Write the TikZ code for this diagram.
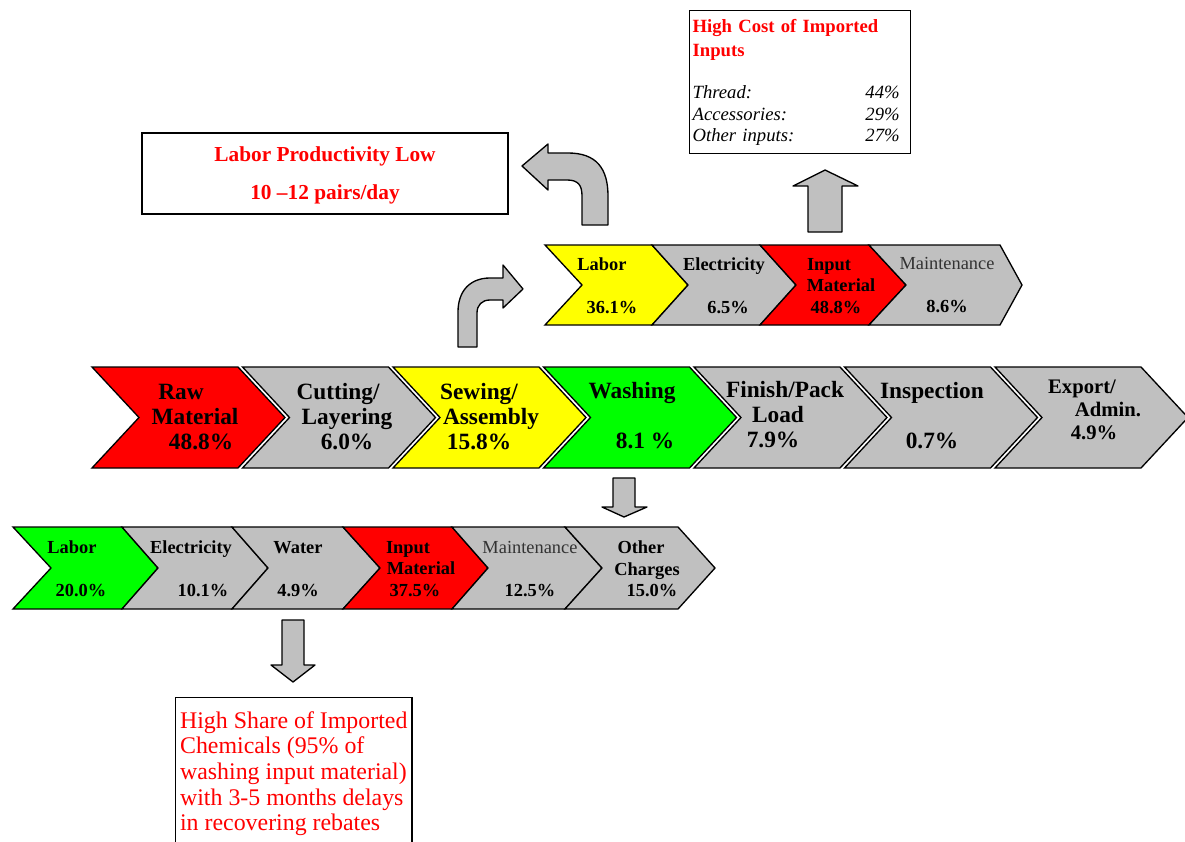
\documentclass[tikz,border=0pt]{standalone}
\usepackage{fontspec}
\setmainfont{Liberation Serif}
\usetikzlibrary{positioning,fit}
\definecolor{ChevGray}{HTML}{C0C0C0}
\definecolor{ChevRed}{HTML}{FF0000}
\definecolor{ChevYellow}{HTML}{FFFF00}
\definecolor{ChevGreen}{HTML}{00FF00}
\definecolor{NoteRed}{HTML}{FF0000}
\definecolor{MaintInk}{HTML}{333333}

\begin{document}
\begin{tikzpicture}[x=0.75pt,y=-0.75pt,
    chev/.style={draw=black,line width=1pt,line join=miter},
    blockarrow/.style={draw=black,fill=ChevGray,line width=1pt,line join=round},
    notebox/.style={draw=black,line width=1pt,fill=white},
    mainlab/.style={font=\fontsize{17.5}{18.75}\selectfont\bfseries,align=center,inner sep=0pt},
    sublab/.style={font=\fontsize{13.8}{16}\selectfont\bfseries,align=center,inner sep=0pt}]
    \useasboundingbox (0,0) rectangle (1185,842);
    \clip (0,0) rectangle (1185,842);

    \foreach \k/\col in {0/ChevRed,1/ChevGray,2/ChevYellow,3/ChevGreen,4/ChevGray,5/ChevGray,6/ChevGray} {
      \pgfmathsetmacro\xl{92+150.5*\k}
      \draw[chev,fill=\col] (\xl,367) -- ++(146,0) -- ++(47,50.5) -- ++(-47,50.5)
        -- ++(-146,0) -- ++(47,-50.5) -- cycle;
    }
    \foreach \xl/\xn/\xr/\xt/\col in {545/582/652/688/ChevYellow,652/688/760/796/ChevGray,760/796/869/906/ChevRed,869/906/1000/1022/ChevGray} {
      \draw[chev,fill=\col] (\xl,245) -- (\xr,245) -- (\xt,285) -- (\xr,325) -- (\xl,325) -- (\xn,285) -- cycle;
    }
    \foreach \xl/\xn/\xr/\xt/\col in {13/51/122/158/ChevGreen,122/158/232/268/ChevGray,232/268/343/380/ChevGray,343/380/452/488/ChevRed,452/488/565/602/ChevGray,565/602/678/715/ChevGray} {
      \draw[chev,fill=\col] (\xl,527) -- (\xr,527) -- (\xt,568) -- (\xr,609) -- (\xl,609) -- (\xn,568) -- cycle;
    }

    \node[mainlab] (rawmat) at (195,417) {Raw\hspace*{21pt}\\Material\\\hspace*{9pt}48.8\%};
    \node[mainlab] (cutting) at (347,417) {Cutting/\hspace*{13.5pt}\\Layering\\6.0\%};
    \node[mainlab] (sewing) at (485,417) {Sewing/\hspace*{9pt}\\\hspace*{9pt}Assembly\\15.8\%\hspace*{9pt}};
    \node[mainlab] (washing) at (638,416) {Washing\hspace*{9pt}\\\mbox{}\\\hspace*{10.5pt}8.1 \%};
    \node[mainlab] (finish) at (778,415) {\hspace*{10.5pt}Finish/Pack\\Load\\7.9\%\hspace*{7.5pt}};
    \node[mainlab] (inspect) at (932,416) {Inspection\\\mbox{}\\0.7\%};
    \node[mainlab,font=\fontsize{15.5}{17}\selectfont\bfseries] (export) at (1094,410)
      {Export/\hspace*{18pt}\\\hspace*{21pt}Admin.\\4.9\%};

    \node[sublab] (uplabor) at (607,286) {Labor\hspace*{7.5pt}\\\mbox{}\\\hspace*{7.5pt}36.1\%};
    \node[sublab] (upelec) at (724,286) {Electricity\\\mbox{}\\\hspace*{6pt}6.5\%};
    \node[sublab] (upinput) at (836,286) {Input\hspace*{10.5pt}\\\hspace*{7.5pt}Material\\48.8\%};
    \node[sublab] (upmaint) at (947,285) {\mdseries\color{MaintInk}Maintenance\\\mbox{}\\8.6\%};

    \node[sublab] (lolabor) at (76,569) {Labor\hspace*{6pt}\\\mbox{}\\\hspace*{7.5pt}20.0\%};
    \node[sublab] (loelec) at (197,569) {Electricity\hspace*{9pt}\\\mbox{}\\\hspace*{9pt}10.1\%};
    \node[sublab] (lowater) at (298,569) {Water\\\mbox{}\\4.9\%};
    \node[sublab] (loinput) at (415,569) {Input\hspace*{10.5pt}\\\hspace*{9pt}Material\\37.5\%};
    \node[sublab] (lomaint) at (530,569) {\mdseries\color{MaintInk}Maintenance\\\mbox{}\\12.5\%};
    \node[sublab] (loother) at (647,569) {Other\hspace*{9pt}\\Charges\\\hspace*{7.5pt}15.0\%};

    \node[notebox,fit={(142,133) (508,214)},inner sep=0pt] (prodbox) {};
    \node[align=center,text=NoteRed,inner sep=0pt,
          font=\fontsize{16}{18.4}\selectfont\bfseries] (prodtext) at (325,175)
      {Labor Productivity Low\\[10pt]10 –12 pairs/day};

    \node[notebox,anchor=north west,minimum width=165.75pt,minimum height=107.25pt,
          text width=161.25pt,inner xsep=2.25pt,align=left,
          font=\fontsize{14}{16}\selectfont] (importbox) at (689,10)
      {\vspace*{2pt}{\bfseries\color{NoteRed}High Cost of Imported\\Inputs}\\\mbox{}\\
       \itshape\makebox[155.25pt]{Thread:\hfill 44\%}\\
       \makebox[155.25pt]{Accessories:\hfill 29\%}\\
       \makebox[155.25pt]{Other inputs:\hfill 27\%}};

    \node[notebox,anchor=north west,minimum width=177pt,minimum height=114pt,
          align=left,text=NoteRed,font=\fontsize{17.9}{19.3}\selectfont] (chembox) at (175,697)
      {High Share of Imported\\Chemicals (95\% of\\washing input material)\\with 3-5 months delays\\in recovering rebates};

    \draw[blockarrow] (582,225) -- (582,196) .. controls (582,185) and (578,180) .. (567,180)
      -- (548,180) -- (548,190) -- (522,166) -- (548,144) -- (548,153) -- (568,153)
      .. controls (596,153) and (608,168) .. (608,196) -- (608,225) -- cycle;
    \draw[blockarrow] (458,347) -- (458,312) .. controls (458,291) and (470,278) .. (490,278)
      -- (503,278) -- (503,265) -- (523,289) -- (503,308) -- (503,300) -- (490,300)
      .. controls (482,300) and (477,305) .. (477,313) -- (477,347) -- cycle;
    \draw[blockarrow] (808,232) -- (808,186) -- (793,186) -- (825,170) -- (858,186)
      -- (842,186) -- (842,232) -- cycle;
    \draw[blockarrow] (613,478) -- (635,478) -- (635,507) -- (647,507) -- (624,517)
      -- (602,507) -- (613,507) -- cycle;
    \draw[blockarrow] (282,620) -- (304,620) -- (304,665) -- (315,665) -- (293,682)
      -- (271,665) -- (282,665) -- cycle;
  \end{tikzpicture}
\end{document}
